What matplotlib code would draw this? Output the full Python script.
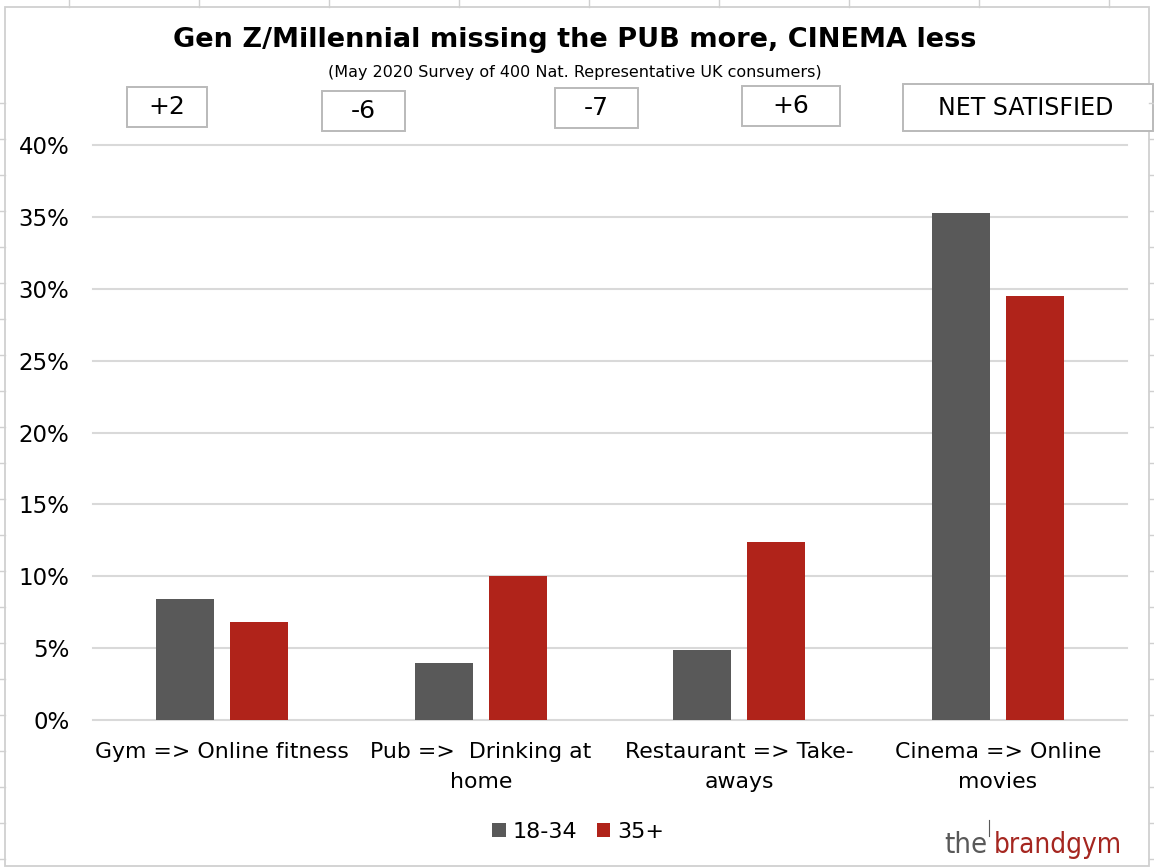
import matplotlib
matplotlib.use("Agg")
import matplotlib.pyplot as plt
from matplotlib.patches import Rectangle
from matplotlib.lines import Line2D
import numpy as np

# ---- data ----
categories = ["Gym => Online fitness", "Pub =>  Drinking at\nhome",
              "Restaurant => Take-\naways", "Cinema => Online\nmovies"]
series_names = ["18-34", "35+"]
young = [8.4, 4.0, 4.9, 35.3]
older = [6.8, 10.0, 12.4, 29.5]
net_labels = ["+2", "-6", "-7", "+6"]
net_title = "NET SATISFIED"
title = "Gen Z/Millennial missing the PUB more, CINEMA less"
subtitle = "(May 2020 Survey of 400 Nat. Representative UK consumers)"
yticks = [0, 5, 10, 15, 20, 25, 30, 35, 40]

GRAY = "#595959"
RED = "#b0231a"
GRID = "#d9d9d9"
FRAME = "#d0d0d0"

W, H = 1154, 868
plt.rcParams['font.family'] = ['DejaVu Sans']

fig = plt.figure(figsize=(W / 100, H / 100), dpi=100)
fig.patch.set_facecolor("white")


def fx(x):
    return x / W


def fy(y):
    return 1 - y / H


# spreadsheet cell lines outside the chart frame
for x in range(69, 1150, 130):
    fig.add_artist(Line2D([fx(x), fx(x)], [fy(0), fy(7)], transform=fig.transFigure,
                          color=FRAME, lw=1.0))
for y in range(103, 866, 36):
    fig.add_artist(Line2D([fx(0), fx(5)], [fy(y), fy(y)], transform=fig.transFigure,
                          color=FRAME, lw=1.0))
    fig.add_artist(Line2D([fx(1149), fx(1154)], [fy(y), fy(y)], transform=fig.transFigure,
                          color=FRAME, lw=1.0))

# chart frame
fig.add_artist(Rectangle((fx(5), fy(866)), fx(1149) - fx(5), fy(7) - fy(866),
                         transform=fig.transFigure, fill=False, ec=FRAME, lw=1.3))

# axes
ax = fig.add_axes([fx(93), fy(720), fx(1127) - fx(93), fy(145) - fy(720)])
ax.set_facecolor("none")
x = np.arange(len(categories))
bw = 0.224
off = 0.143
b1 = ax.bar(x - off, young, bw, color=GRAY, label=series_names[0], zorder=3)
b2 = ax.bar(x + off, older, bw, color=RED, label=series_names[1], zorder=3)
ax.set_xlim(-0.5, len(categories) - 0.5)
ax.set_ylim(0, 40)
ax.set_yticks(yticks)
ax.set_yticklabels([f"{v}%" for v in yticks], fontsize=16.5)
ax.set_xticks(x)
ax.set_xticklabels(categories, fontsize=15.8, linespacing=1.6)
ax.tick_params(axis='y', length=0, pad=17)
ax.tick_params(axis='x', length=0, pad=16)
ax.yaxis.grid(True, color=GRID, lw=1.5, zorder=0)
for gl in ax.get_ygridlines():
    gl.set_clip_on(False)
ax.set_axisbelow(True)
for s in ax.spines.values():
    s.set_visible(False)

# title
fig.text(fx(575), fy(40), title, ha='center', va='center', fontsize=19.5,
         fontweight='bold')
fig.text(fx(575), fy(72), subtitle, ha='center', va='center', fontsize=11.5)

# net boxes
boxes = [(127, 87, 207, 127), (322, 91, 405, 131), (555, 88, 638, 128),
         (742, 86, 840, 126)]
for (x0, y0, x1, y1), lab in zip(boxes, net_labels):
    fig.add_artist(Rectangle((fx(x0), fy(y1)), fx(x1) - fx(x0), fy(y0) - fy(y1),
                             transform=fig.transFigure, fc='white', ec='#bababa', lw=1.4))
    fig.text(fx((x0 + x1) / 2), fy((y0 + y1) / 2), lab, ha='center', va='center',
             fontsize=18)
x0, y0, x1, y1 = 903, 84, 1153, 131
fig.add_artist(Rectangle((fx(x0), fy(y1)), fx(x1) - fx(x0), fy(y0) - fy(y1),
                         transform=fig.transFigure, fc='white', ec='#bababa', lw=1.4))
fig.text(fx(1026), fy(108), net_title, ha='center', va='center', fontsize=17)

# legend
fig.legend([b1, b2], series_names, loc='center', bbox_to_anchor=(fx(578), fy(832)),
           ncol=2, frameon=False, fontsize=16, handlelength=0.6, handleheight=0.6,
           handletextpad=0.3, columnspacing=0.9)

# logo
fig.text(fx(944), fy(853), "the", ha='left', va='baseline', fontsize=21,
         color=GRAY, family='DejaVu Sans', fontstretch='condensed')
fig.add_artist(Line2D([fx(989), fx(989)], [fy(820), fy(836)], transform=fig.transFigure,
                      color=GRAY, lw=0.8))
fig.text(fx(994), fy(853), "brandgym", ha='left', va='baseline', fontsize=20,
         color="#a52620", family='DejaVu Sans', fontstretch='condensed')

fig.savefig("out.png", dpi=100, facecolor="white")
